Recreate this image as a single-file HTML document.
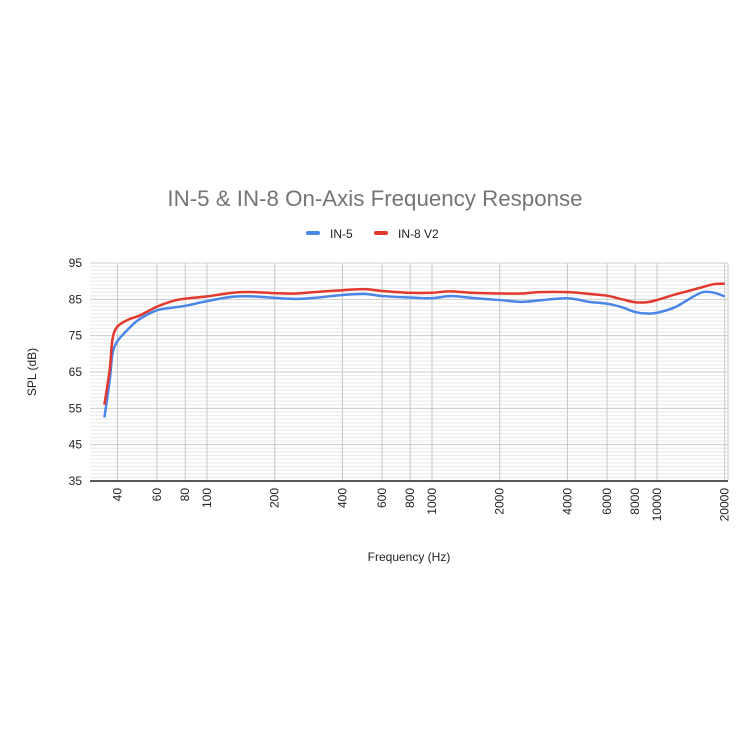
<!DOCTYPE html>
<html><head><meta charset="utf-8"><style>
body{margin:0;background:#fff;}
svg text{font-family:"Liberation Sans",Arial,sans-serif;}
</style></head><body>
<svg id="chart" width="750" height="750" xmlns="http://www.w3.org/2000/svg">
<rect width="750" height="750" fill="#fff"/>
<text x="375" y="206" text-anchor="middle" font-size="22.3" fill="#757575">IN-5 &amp; IN-8 On-Axis Frequency Response</text>
<g>
<g><rect x="306" y="231" width="14" height="4" rx="2" fill="#4a86e8"/><text x="330" y="238" font-size="12" fill="#222">IN-5</text></g>
<g><rect x="374" y="231" width="14" height="4" rx="2" fill="#e2382d"/><text x="398" y="238" font-size="12" fill="#222">IN-8 V2</text></g>
</g>
<g id="grid"></g><g id="axes"></g><g id="series"></g>
<text transform="translate(36,372) rotate(-90)" text-anchor="middle" font-size="12" fill="#222">SPL (dB)</text>
<text x="409" y="561" text-anchor="middle" font-size="12" fill="#222">Frequency (Hz)</text>
</svg>
<script>
const xTicks=[40,60,80,100,200,400,600,800,1000,2000,4000,6000,8000,10000,20000];
const yTicks=[35,45,55,65,75,85,95];
const freqs=[35,37,38,40,45,50,60,70,80,100,130,160,200,250,300,400,500,600,800,1000,1200,1500,2000,2500,3000,4000,5000,6000,7000,8000,9000,10000,12000,14000,16000,18000,20000];
const in5=[52.5,63,70,73.5,77,79.5,82,82.7,83.2,84.5,85.7,85.8,85.4,85.1,85.4,86.2,86.5,85.9,85.5,85.3,85.9,85.4,84.8,84.3,84.7,85.3,84.3,83.8,82.8,81.5,81.1,81.3,82.8,85.2,87,86.8,85.8];
const in8=[56,66,74,77.5,79.5,80.5,83,84.5,85.2,85.8,86.8,87,86.7,86.6,87,87.5,87.8,87.3,86.8,86.8,87.2,86.8,86.6,86.6,87,87,86.5,86,85,84.2,84.2,84.8,86.3,87.4,88.4,89.2,89.3];
const L=90,R=728,T=263,B=481;
const x=f=>432+(Math.log10(f)-3)*225;
const y=v=>B-(v-35)*(B-T)/60;
const NS='http://www.w3.org/2000/svg';
function mk(tag,attrs,parent){const e=document.createElementNS(NS,tag);for(const k in attrs)e.setAttribute(k,attrs[k]);parent.appendChild(e);return e;}
const grid=document.getElementById('grid'),axes=document.getElementById('axes'),series=document.getElementById('series');
for(let v=35;v<=95;v++){
 const l=mk('line',{x1:L,x2:R,y1:y(v),y2:y(v),stroke:(v-35)%10==0?'#ccc':'#e8e8e8','stroke-width':1},grid);
 
 
}
mk('line',{x1:R,x2:R,y1:T,y2:B,stroke:'#ccc'},grid);
xTicks.forEach(f=>{
 const l=mk('line',{x1:x(f),x2:x(f),y1:T,y2:B,stroke:'#c8c8c8'},grid);
 
 
 const t=mk('text',{transform:`translate(${x(f)+4},488) rotate(-90)`,'text-anchor':'end','font-size':12,fill:'#222'},axes);
 t.textContent=f;
 
 
});
yTicks.forEach(v=>{
 const t=mk('text',{x:82,y:y(v)+4,'text-anchor':'end','font-size':12,fill:'#222'},axes);
 t.textContent=v;
 
 
});
const ax=mk('line',{x1:L,x2:R,y1:B,y2:B,stroke:'#222','stroke-width':1.5},axes);


function path(vals,color,name){
 const pts=freqs.map((f,i)=>[x(f),y(vals[i])]);
 let d='M'+pts[0].join(',');
 for(let i=0;i<pts.length-1;i++){
  const p0=pts[Math.max(0,i-1)],p1=pts[i],p2=pts[i+1],p3=pts[Math.min(pts.length-1,i+2)];
  const c1=[p1[0]+(p2[0]-p0[0])/6,p1[1]+(p2[1]-p0[1])/6],c2=[p2[0]-(p3[0]-p1[0])/6,p2[1]-(p3[1]-p1[1])/6];
  d+=`C${c1.join(',')} ${c2.join(',')} ${p2.join(',')}`;
 }
 const p=mk('path',{d:d,fill:'none',stroke:color,'stroke-width':2.5,'stroke-linejoin':'round'},series);
 
 
}
path(in5,'#4a86e8','series-in5-line');
path(in8,'#e2382d','series-in8-line');
</script>
</body></html>
